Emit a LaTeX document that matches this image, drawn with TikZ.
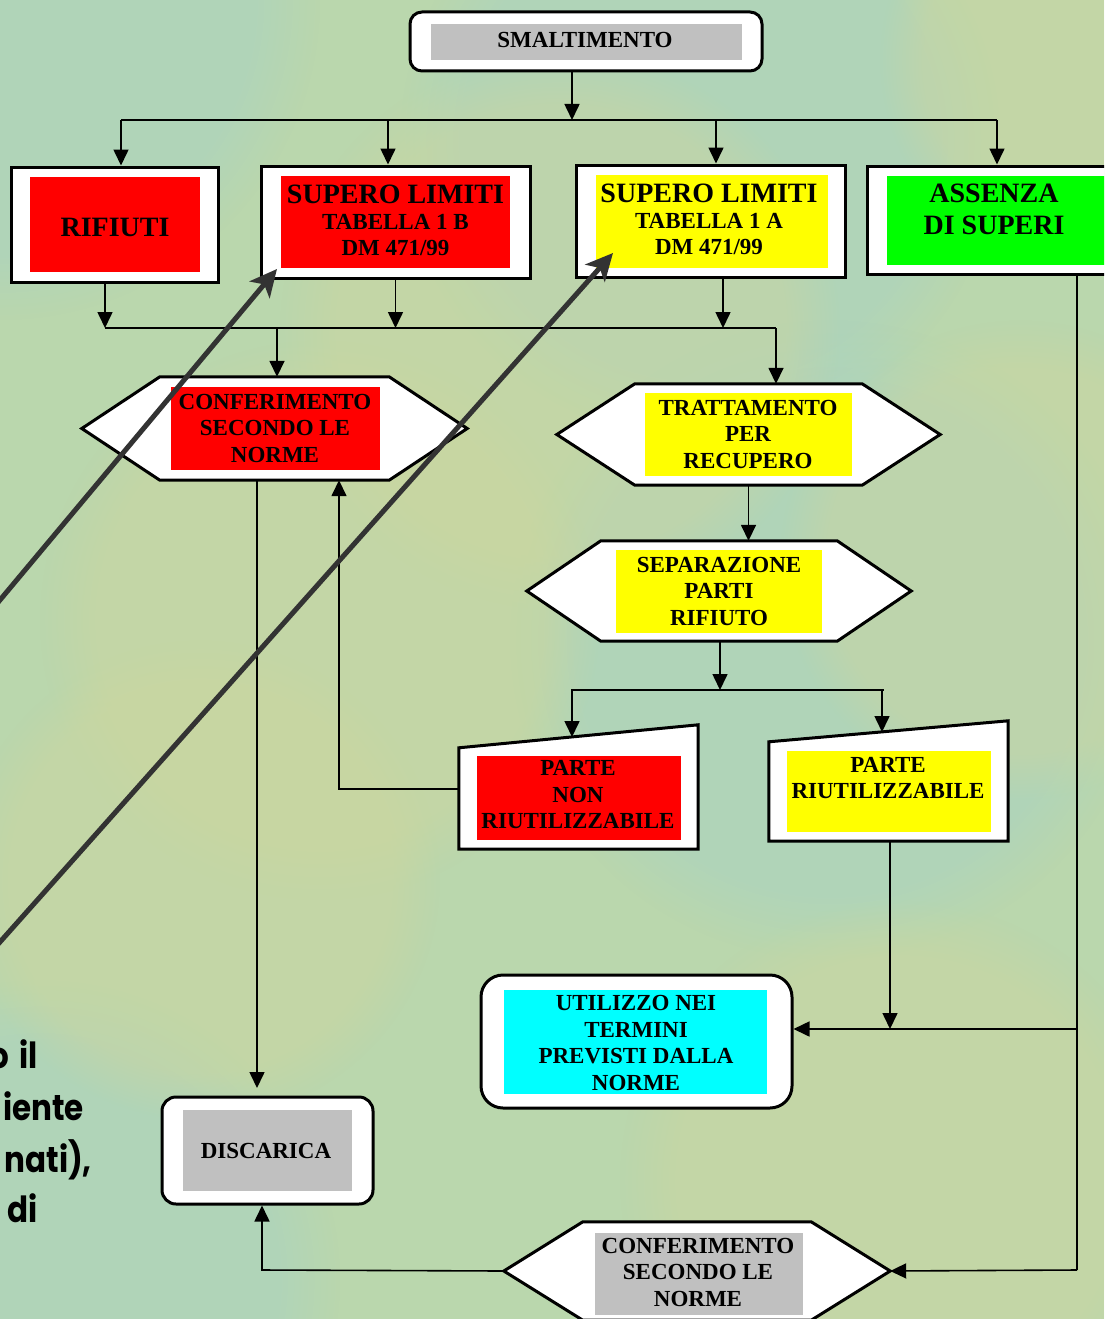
\documentclass[tikz,border=0pt]{standalone}
\usepackage{fontspec}
\setmainfont{Liberation Serif}
\newfontfamily\handfont{Poppins}[FakeStretch=0.86]
\usetikzlibrary{arrows.meta,calc,fadings}

\definecolor{bgbase}{HTML}{BAD7AD}
\definecolor{bgblue}{HTML}{A6D2C6}
\definecolor{bgtan}{HTML}{CED69E}
\definecolor{boxred}{HTML}{FF0000}
\definecolor{boxyellow}{HTML}{FFFF00}
\definecolor{boxgreen}{HTML}{00FF00}
\definecolor{boxcyan}{HTML}{00FFFF}
\definecolor{boxgrey}{HTML}{C0C0C0}
\definecolor{pointer}{HTML}{333333}

\tikzset{
  frame/.style={draw=black, line width=3pt, fill=white, inner sep=0pt},
  outline/.style={draw=none, inner sep=0pt},
  panel/.style={fill=#1, draw=none, inner sep=0pt},
  label/.style={font=\bfseries\fontsize{23}{26.5}\selectfont, align=center, inner sep=0pt},
  biglabel/.style={font=\bfseries\fontsize{28}{32}\selectfont, align=center, inner sep=0pt},
  conn/.style={line width=1.6pt, black},
  arr/.style={conn, -{Triangle[length=16pt,width=15pt]}},
  bigarr/.style={line width=5pt, pointer, -{Stealth[length=27pt,width=26pt,inset=7pt]}},
  hand/.style={font=\handfont\bfseries\fontsize{36}{40}\selectfont, anchor=base east, inner sep=0pt},
  blob/.style={fill=#1, opacity=0.45, path fading=circle with fuzzy edge 20 percent},
}

% hexagonal frame drawn over a bounding node: name, horizontal inset
\newcommand\hexframe[2]{%
  \draw[frame] (#1.west) -- ($(#1.north west)+(#2,0)$) -- ($(#1.north east)+(-#2,0)$)
    -- (#1.east) -- ($(#1.south east)+(-#2,0)$) -- ($(#1.south west)+(#2,0)$) -- cycle;}
% slanted-top frame: name, drop of the top-left corner
\newcommand\slantframe[2]{%
  \draw[frame] (#1.south west) -- ($(#1.north west)+(0,#2)$) -- (#1.north east)
    -- (#1.south east) -- cycle;}

\begin{document}
\begin{tikzpicture}[x=1pt, y=-1pt]
\useasboundingbox (0,0) rectangle (1104,1319);
\clip (0,0) rectangle (1104,1319);

% background wash
\fill[bgbase] (0,0) rectangle (1104,1319);
\foreach \cx/\cy/\r/\c in {0/0/320/bgblue, 700/140/300/bgblue, 830/640/320/bgblue,
    40/1280/300/bgblue, 560/330/280/bgtan, 320/620/280/bgtan, 200/880/240/bgtan,
    1020/560/240/bgtan, 900/1180/280/bgtan, 1100/60/220/bgtan}
  \fill[blob=\c] (\cx,\cy) circle[radius=\r];

% ---- top box
\node[frame, rounded corners=12pt, minimum width=352pt, minimum height=59pt] (smalt) at (586,41.5) {};
\node[panel=boxgrey, minimum width=311pt, minimum height=36pt] (smaltP) at (586.5,42) {};
\node[label] at (585,40) {SMALTIMENTO};

% ---- first row
\node[frame, minimum width=207pt, minimum height=115pt] (rif) at (114.5,224.5) {};
\node[panel=boxred, minimum width=170pt, minimum height=95pt] (rifP) at (115,224.5) {};
\node[biglabel] at (115,227) {RIFIUTI};

\node[frame, minimum width=269pt, minimum height=112pt] (supB) at (395.5,222) {};
\node[panel=boxred, minimum width=229pt, minimum height=92pt] (supBP) at (395.5,222) {};
\node[biglabel] at (395.5,194) {SUPERO LIMITI};
\node[label] at (395.5,235) {TABELLA 1 B\\DM 471/99};

\node[frame, minimum width=269pt, minimum height=112pt] (supA) at (710.5,221) {};
\node[panel=boxyellow, minimum width=232pt, minimum height=93pt] (supAP) at (712,221.5) {};
\node[biglabel] at (709,193) {SUPERO LIMITI};
\node[label] at (709,234) {TABELLA 1 A\\DM 471/99};

\node[frame, minimum width=245pt, minimum height=108pt] (ass) at (989.5,220) {};
\node[panel=boxgreen, minimum width=223pt, minimum height=89pt] (assP) at (998.5,220.5) {};
\node[biglabel] at (994,209) {ASSENZA\\DI SUPERI};

% ---- hexagon boxes
\node[outline, minimum width=385pt, minimum height=103pt] (conf) at (274.5,428.5) {};
\hexframe{conf}{78}
\node[panel=boxred, minimum width=209pt, minimum height=83pt] (confP) at (275.5,428.5) {};
\node[label] at (275,428) {CONFERIMENTO\\SECONDO LE\\NORME};

\node[outline, minimum width=383pt, minimum height=101pt] (tratt) at (748.5,434.5) {};
\hexframe{tratt}{78}
\node[panel=boxyellow, minimum width=207pt, minimum height=83pt] (trattP) at (748.5,434.5) {};
\node[label] at (748,434) {TRATTAMENTO\\PER\\RECUPERO};

\node[outline, minimum width=384pt, minimum height=100pt] (sep) at (719,591) {};
\hexframe{sep}{74}
\node[panel=boxyellow, minimum width=206pt, minimum height=83pt] (sepP) at (719,591.5) {};
\node[label] at (719,591) {SEPARAZIONE\\PARTI\\RIFIUTO};

% ---- slanted boxes
\node[outline, minimum width=239pt, minimum height=124pt] (pnon) at (578.5,787) {};
\slantframe{pnon}{23}
\node[panel=boxred, minimum width=204pt, minimum height=84pt] (pnonP) at (579,798) {};
\node[label] at (578,795) {PARTE\\NON\\RIUTILIZZABILE};

\node[outline, minimum width=239pt, minimum height=120pt] (priu) at (888.5,781) {};
\slantframe{priu}{21}
\node[panel=boxyellow, minimum width=204pt, minimum height=81pt] (priuP) at (889,791.5) {};
\node[label] at (888,778) {PARTE\\RIUTILIZZABILE};

% ---- lower boxes
\node[frame, rounded corners=22pt, minimum width=311pt, minimum height=133pt] (util) at (636.5,1041.5) {};
\node[panel=boxcyan, minimum width=263pt, minimum height=104pt] (utilP) at (635.5,1042) {};
\node[label] at (636,1043) {UTILIZZO NEI\\TERMINI\\PREVISTI DALLA\\NORME};

\node[frame, rounded corners=14pt, minimum width=211pt, minimum height=107pt] (disc) at (267.5,1150.5) {};
\node[panel=boxgrey, minimum width=169pt, minimum height=81pt] (discP) at (267.5,1150.5) {};
\node[label] at (266,1151) {DISCARICA};

\node[outline, minimum width=386pt, minimum height=98pt] (conf2) at (697,1271) {};
\hexframe{conf2}{79}
\node[panel=boxgrey, minimum width=208pt, minimum height=82pt] (conf2P) at (699,1274) {};
\node[label] at (698,1272) {CONFERIMENTO\\SECONDO LE\\NORME};

% ---- connector junctions
\coordinate (busA) at (572,120);
\coordinate (busB) at (0,328);
\coordinate (busC) at (720,690);
\coordinate (railT) at (1077,274);
\coordinate (railM) at (1077,1029);
\coordinate (railB) at (1077,1270);
\coordinate (backC) at (339,789);
\coordinate (dropD) at (262,1270);
\coordinate (pnonIn) at (572,737);
\coordinate (priuIn) at (882,732);

% from the top box to the first row
\draw[arr] (smalt.south -| busA) -- (busA);
\draw[conn] (121,120) -- (997,120);
\draw[arr] (121,120) -- (rif.north -| 121,0);
\draw[arr] (388,120) -- (supB.north -| 388,0);
\draw[arr] (716,120) -- (supA.north -| 716,0);
\draw[arr] (997,120) -- (ass.north -| 997,0);

% from the first row to the hexagons
\draw[arr] (rif.south -| 105,0) -- (105,328);
\draw[arr] (supB.south) -- (supB.south |- busB);
\draw[arr] (supA.south -| 723,0) -- (723,328);
\draw[conn] (105,328) -- (776,328);
\draw[arr] (277,328) -- (conf.north -| 277,0);
\draw[arr] (776,328) -- (tratt.north -| 776,0);

% treatment chain
\draw[arr] (tratt.south) -- (sep.north -| tratt.south);
\draw[arr] (sep.south -| busC) -- (busC);
\draw[conn] (571,690) -- (884,690);
\draw[arr] (572,690) -- (pnonIn);
\draw[arr] (882,690) -- (priuIn);

% non-reusable part back to disposal
\draw[arr] (pnon.west |- backC) -- (backC) -- (conf.south -| backC);
\draw[arr] (conf.south -| 257,0) -- (257,1088);

% reusable part and no-excess branch
\draw[arr] (priu.south -| 890,0) -- (890,1029);
\draw[conn] (railT) -- (railB);
\draw[arr] (railM) -- (util.east |- railM);
\draw[arr] (railB) -- (conf2.east);

% second disposal route
\draw[arr] (conf2.west) -- (dropD) -- (disc.south -| dropD);

% pointer arrows
\coordinate (ptrA) at (277,269);
\coordinate (ptrB) at (613,253);
\draw[bigarr] ($(0,600)!-0.2!(ptrA)$) -- (ptrA);
\draw[bigarr] ($(0,942)!-0.1!(ptrB)$) -- (ptrB);

% side text
\node[hand] (h1) at (38,1068) {o\hspace{10pt}il};
\node[hand] (h2) at (84,1120) {iente};
\node[hand] (h3) at (92,1172) {nati),};
\node[hand] (h4) at (38,1222) {di};
\end{tikzpicture}
\end{document}
